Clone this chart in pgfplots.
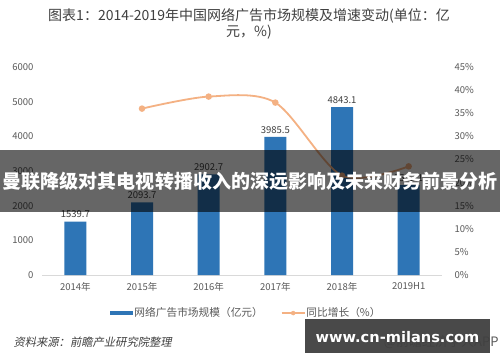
\documentclass[border=0pt]{standalone}
\usepackage{fontspec}
\setmainfont{Noto Sans CJK SC}
\newfontfamily\srcfont{Noto Sans CJK SC}[FakeSlant=0.2]
\newfontfamily\wmfont{DejaVu Sans}
\usepackage{pgfplots}
\usepackage{pgfplotstable}
\pgfplotsset{compat=1.18}
\pgfkeys{/pgf/number format/assume math mode=true}
\definecolor{barblue}{HTML}{2E75B6}
\definecolor{lineorange}{HTML}{F4B183}
\definecolor{ticktext}{HTML}{595959}
\definecolor{titletext}{HTML}{404040}
\definecolor{axisgray}{HTML}{D9D9D9}

\pgfplotstableread{
x val
0 1539.7
1 2093.7
2 2902.7
3 3985.5
4 4843.1
5 2592.1
}\bardata
\pgfplotstableread{
x g
1 36.0
2 38.6
3 37.3
4 21.5
5 23.5
}\growthdata

\begin{document}
\begin{tikzpicture}[x=1bp,y=1bp]
\path[use as bounding box] (0,0) rectangle (500,362);
\fill[white] (0,0) rectangle (500,362);

\node[align=center, font=\fontsize{14bp}{16bp}\selectfont, text=titletext] at (249,338.5) {图表1：2014-2019年中国网络广告市场规模及增速变动(单位：亿\\元，\%)};

\begin{axis}[
  at={(42bp,87bp)}, anchor=south west,
  width=400bp, height=208bp, scale only axis,
  xmin=-0.5, xmax=5.5, ymin=0, ymax=6000,
  axis x line*=bottom, axis y line*=left,
  x axis line style={draw=axisgray, -, line width=0.8bp},
  y axis line style={draw=none},
  major tick length=0pt,
  xtick={0,1,2,3,4,5},
  xticklabels={2014年,2015年,2016年,2017年,2018年,2019H1},
  ytick={0,1000,2000,3000,4000,5000,6000},
  /pgf/number format/1000 sep={},
  tick label style={font=\fontsize{9.5bp}{11bp}\selectfont, text=ticktext},
  xticklabel style={yshift=-4bp},
  yticklabel style={xshift=-5bp},
  ybar, bar width=22bp,
  nodes near coords={\pgfmathprintnumber[fixed,fixed zerofill,precision=1,1000 sep={}]{\pgfplotspointmeta}},
  nodes near coords style={font=\fontsize{9.5bp}{11bp}\selectfont, text=titletext},
  legend style={at={(0.51,-0.183)}, anchor=center, draw=none, fill=none,
    legend columns=2, font=\fontsize{10.7bp}{12bp}\selectfont, text=ticktext,
    nodes={inner xsep=1bp},
    /tikz/every even column/.append style={column sep=17bp}},
]
\addplot[fill=barblue, draw=none,
  legend image code/.code={\fill[barblue] (0bp,-2.2bp) rectangle (23bp,2.2bp);}]
  table[x=x,y=val] {\bardata};
\addlegendentry{网络广告市场规模（亿元）}
\addlegendimage{legend image code/.code={\draw[lineorange, line width=1.6bp] (0bp,0bp) -- (23bp,0bp); \fill[lineorange] (11.5bp,0bp) circle (2bp);}}
\addlegendentry{同比增长（\%）}
\end{axis}

\begin{axis}[
  at={(42bp,87bp)}, anchor=south west,
  width=400bp, height=208bp, scale only axis,
  xmin=-0.5, xmax=5.5, ymin=0, ymax=45,
  axis x line=none, axis y line*=right,
  y axis line style={draw=none},
  major tick length=0pt,
  ytick={0,5,10,15,20,25,30,35,40,45},
  yticklabel={\pgfmathprintnumber{\tick}\%},
  tick label style={font=\fontsize{9.5bp}{11bp}\selectfont, text=ticktext},
  yticklabel style={xshift=9bp},
]
\addplot[lineorange, line width=1.8bp, smooth, mark=*, mark size=2.3bp,
  mark options={fill=lineorange, draw=lineorange}]
  table[x=x,y=g] {\growthdata};
\end{axis}

% overlay banner
\fill[black, opacity=0.6] (0,150) rectangle (500,212);
\node[font=\fontsize{19bp}{20bp}\selectfont\bfseries, text=white] at (250,181) {曼联降级对其电视转播收入的深远影响及未来财务前景分析};

% source
\node[anchor=west, font=\srcfont\fontsize{11.3bp}{13bp}\selectfont, text=titletext] at (10,20) {资料来源：前瞻产业研究院整理};
\node[anchor=east, font=\fontsize{13bp}{14bp}\selectfont, text=ticktext] at (502,20) {@前瞻经济学人APP};

% watermark box
\fill[black!75, opacity=0.95] (305,9) rectangle (490,43);
\node[font=\wmfont\bfseries\fontsize{14.6bp}{16bp}\selectfont, text=white] at (397.5,25) {www.cn-milans.com};
\end{tikzpicture}
\end{document}
